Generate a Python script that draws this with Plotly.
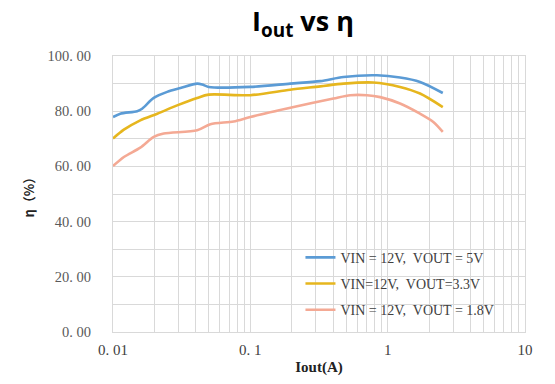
import plotly.graph_objects as go

# Data
iout_5v = [0.01, 0.0113, 0.015, 0.0163, 0.0198, 0.0248, 0.031, 0.041, 0.0446, 0.0497, 0.1, 0.195, 0.323, 0.477, 0.835, 1.23, 1.72, 2.52]
eff_5v = [77.9, 79.1, 80.0, 80.9, 84.8, 87.0, 88.4, 90.0, 89.7, 88.8, 88.8, 90.0, 90.9, 92.4, 93.0, 92.2, 90.6, 86.6]

iout_3v3 = [0.01, 0.012, 0.0158, 0.021, 0.0293, 0.041, 0.0497, 0.1, 0.195, 0.323, 0.477, 0.785, 1.23, 1.72, 2.52]
eff_3v3 = [70.1, 73.3, 76.7, 79.1, 82.1, 84.8, 86.0, 85.8, 87.8, 89.0, 90.0, 90.4, 88.8, 86.4, 81.5]

iout_1v8 = [0.01, 0.012, 0.0158, 0.0198, 0.0234, 0.041, 0.0512, 0.0756, 0.1, 0.207, 0.403, 0.534, 0.706, 0.882, 1.23, 1.72, 2.15, 2.52]
eff_1v8 = [60.1, 63.4, 66.8, 70.7, 71.9, 73.1, 75.3, 76.3, 77.9, 81.5, 84.6, 85.8, 85.8, 85.1, 82.8, 79.1, 76.1, 72.5]

series_names = ["VIN = 12V,  VOUT = 5V", "VIN=12V,  VOUT=3.3V", "VIN = 12V,  VOUT = 1.8V"]
series_colors = ["#5B9BD5", "#E6B61E", "#F4A994"]

y_tickvals = [0, 20, 40, 60, 80, 100]
y_ticktext = ["0. 00", "20. 00", "40. 00", "60. 00", "80. 00", "100. 00"]
x_tickvals = [0.01, 0.1, 1, 10]
x_ticktext = ["0. 01", "0. 1", "1", "10"]
x_minor = [m * d for d in (0.01, 0.1, 1) for m in range(2, 10)]

fig = go.Figure()
for i, (xs, ys) in enumerate([(iout_5v, eff_5v), (iout_3v3, eff_3v3), (iout_1v8, eff_1v8)]):
    fig.add_trace(go.Scatter(
        x=xs, y=ys, mode="lines", name=series_names[i],
        line=dict(color=series_colors[i], width=2.6, shape="spline", smoothing=0.8),
        legendgroup=f"g{i}",
    ))

serif = "Liberation Serif, Noto Sans CJK SC, serif"
grid = "#D9D9D9"

fig.update_layout(
    width=555, height=384,
    margin=dict(l=112.5, r=30, t=55.7, b=52.3),
    paper_bgcolor="white", plot_bgcolor="white",
    title=dict(text="<b>I<sub>out</sub> vs η</b>", x=303/555, xanchor="center",
               y=1 - 22/384, yanchor="middle", xref="container", yref="container",
               font=dict(family="Open Sans, Liberation Sans, sans-serif", size=27, color="#000000")),
    showlegend=True,
    legend=dict(x=0.455, y=0.327, xanchor="left", yanchor="top",
                bgcolor="rgba(0,0,0,0)", borderwidth=0,
                font=dict(family=serif, size=14, color="#404040"),
                tracegroupgap=5, itemwidth=30),
    xaxis=dict(type="log", range=[-2, 1], tickvals=x_tickvals, ticktext=x_ticktext,
               showgrid=True, gridcolor=grid, gridwidth=1,
               minor=dict(tickvals=x_minor, showgrid=True, gridcolor=grid, gridwidth=1),
               showline=True, linecolor=grid, mirror=True, zeroline=False,
               ticks="", ticklabelstandoff=4,
               tickfont=dict(family=serif, size=15, color="#404040"),
               title=dict(text="<b>Iout(A)</b>", standoff=4,
                          font=dict(family=serif, size=15, color="#222222"))),
    yaxis=dict(range=[0, 100], tickvals=y_tickvals, ticktext=y_ticktext,
               showgrid=True, gridcolor=grid, gridwidth=1,
               minor=dict(dtick=10, showgrid=True, gridcolor=grid, gridwidth=1),
               showline=True, linecolor=grid, mirror=True, zeroline=False,
               ticks="", ticklabelstandoff=18,
               tickfont=dict(family=serif, size=14.5, color="#595959"),
               title=dict(text="<b>η（%）</b>", standoff=10,
                          font=dict(family="Noto Sans CJK SC, sans-serif", size=13, color="#222222"))),
)

fig.write_html("out.html", config={"displayModeBar": False},
               post_script="document.body.style.margin='0';")
